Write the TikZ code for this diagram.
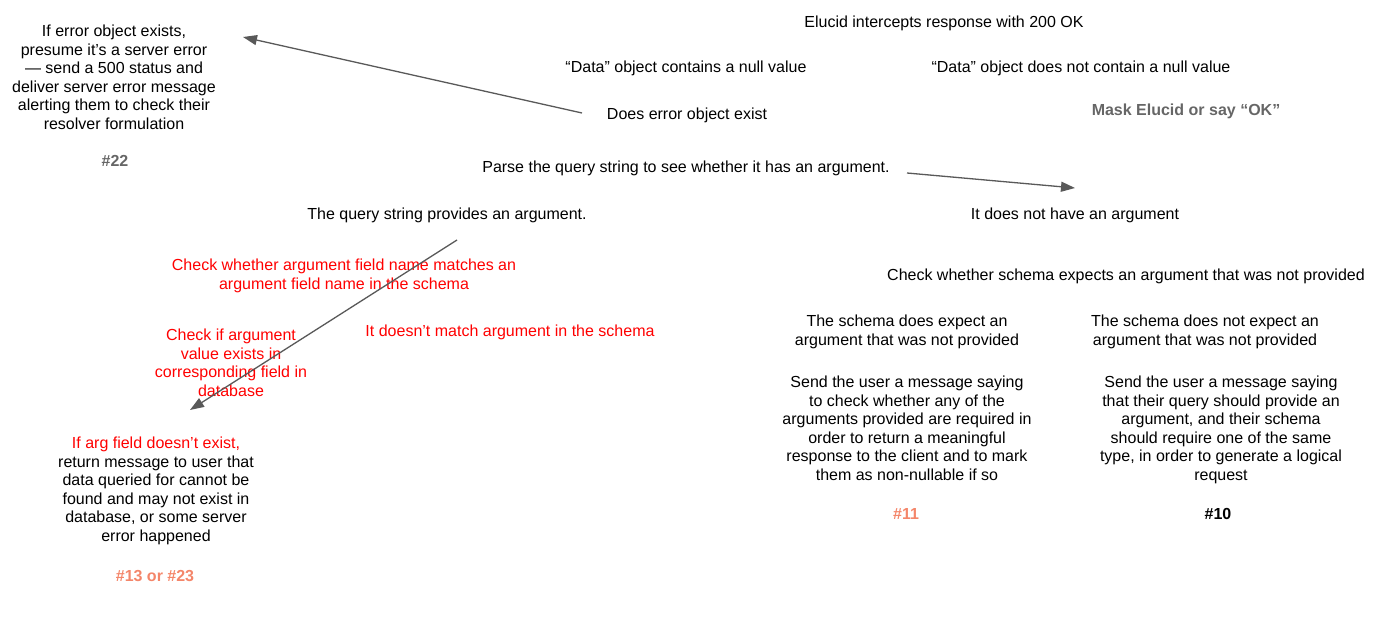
\documentclass[tikz,border=0pt]{standalone}
\usepackage{fontspec}
\setmainfont{Liberation Sans}
\usetikzlibrary{arrows.meta}
\definecolor{arrowgray}{HTML}{595959}
\definecolor{labelgray}{HTML}{666666}
\definecolor{salmon}{HTML}{F4866A}
\definecolor{redtext}{HTML}{FF0000}
\tikzset{
  txt/.style={inner sep=0pt, align=center, font=\fontsize{16}{18.5}\selectfont, text=black},
  one/.style={txt, anchor=base},
  multi/.style={txt, anchor=north},
  bold/.style={font=\fontsize{16}{18.5}\selectfont\bfseries},
  flow/.style={draw=arrowgray, line width=1.3pt, -{Triangle[length=14pt,width=10pt]}}
}
\begin{document}
\begin{tikzpicture}[x=1pt,y=-1pt]
\useasboundingbox (0,0) rectangle (1400,642);
% top
\node[one] (intercept) at (944,28) {Elucid intercepts response with 200 OK};
\node[one] (nullyes) at (686,73) {“Data” object contains a null value};
\node[one] (nullno) at (1081,73) {“Data” object does not contain a null value};
\node[one] (errexist) at (687,119) {Does error object exist};
\node[one, bold, text=labelgray] (mask) at (1186,115) {Mask Elucid or say “OK”};
\node[multi] (servererr) at (114,25) {If error object exists,\\presume it’s a server error\\— send a 500 status and\\deliver server error message\\alerting them to check their\\resolver formulation};
\node[one, bold, text=labelgray] (n22) at (115,166) {\#22};
\node[one] (parse) at (686,172) {Parse the query string to see whether it has an argument.};
\node[one] (provides) at (447,219) {The query string provides an argument.};
\node[one] (noarg) at (1075,219) {It does not have an argument};
% left branch
\node[multi, text=redtext] (checkname) at (344,259) {Check whether argument field name matches an\\argument field name in the schema};
\node[multi, text=redtext] (checkvalue) at (231,329) {Check if argument\\value exists in\\corresponding field in\\database};
\node[one, text=redtext] (nomatch) at (510,336) {It doesn’t match argument in the schema};
\node[multi] (argfield) at (156,437) {{\color{redtext}If arg field doesn’t exist,}\\return message to user that\\data queried for cannot be\\found and may not exist in\\database, or some server\\error happened};
\node[one, bold, text=salmon] (n13) at (155,581) {\#13 or \#23};
% right branch
\node[one] (checkschema) at (1126,280) {Check whether schema expects an argument that was not provided};
\node[multi] (doesexpect) at (907,315) {The schema does expect an\\argument that was not provided};
\node[multi] (notexpect) at (1205,315) {The schema does not expect an\\argument that was not provided};
\node[multi] (send11) at (907,376) {Send the user a message saying\\to check whether any of the\\arguments provided are required in\\order to return a meaningful\\response to the client and to mark\\them as non-nullable if so};
\node[multi] (send10) at (1221,376) {Send the user a message saying\\that their query should provide an\\argument, and their schema\\should require one of the same\\type, in order to generate a logical\\request};
\node[one, bold, text=salmon] (n11) at (906,519) {\#11};
\node[one, bold] (n10) at (1218,519) {\#10};
% connectors
\coordinate (a1s) at (582,113);
\coordinate (a1e) at (243,37);
\coordinate (a2s) at (907,173);
\coordinate (a2e) at (1075,188);
\coordinate (a3s) at (457,240);
\coordinate (a3e) at (190,410);
\draw[flow] (a1s) -- (a1e);
\draw[flow] (a2s) -- (a2e);
\draw[flow] (a3s) -- (a3e);
\end{tikzpicture}
\end{document}
